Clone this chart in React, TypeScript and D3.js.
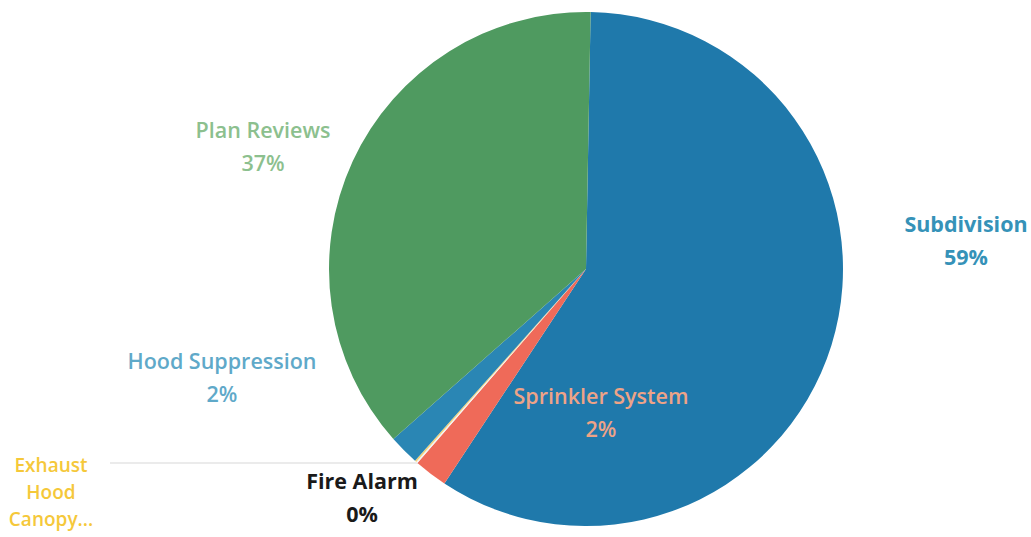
import React from 'react';
import * as d3 from 'd3';

const categories = ['Subdivision', 'Sprinkler System', 'Fire Alarm', 'Exhaust Hood Canopy...', 'Hood Suppression', 'Plan Reviews'];
const values = [59, 2.1, 0.1, 0.1, 1.9, 36.8];
const pctLabels = ['59%', '2%', '0%', '', '2%', '37%'];
const sliceColors = ['#1f79ab', '#ef6a59', '#f4f4f4', '#f2d27a', '#2a86b4', '#4f9a60'];
const labelColors = ['#3592b8', '#eea387', '#1a1a1a', '#f5c83a', '#5fa9c9', '#8cc08e'];

// label anchors (layout only), relative to the pie centre
const labelPos: [number, number][] = [
  [380, -37],
  [15, 135],
  [-224, 220],
  [-535, 203],
  [-364, 100],
  [-323, -131],
];

const W = 1031;
const H = 537;
const cx = 586;
const cy = 269;
const r = 257;

const App = () => {
  const pie = d3
    .pie<number>()
    .sort(null)
    .value((d) => d)
    .startAngle(0.018)
    .endAngle(0.018 + Math.PI * 2);
  const arcs = pie(values);
  const arc = d3.arc<d3.PieArcDatum<number>>().innerRadius(0).outerRadius(r);

  return (
    <svg
      width={W}
      height={H}
      style={{ position: 'absolute', left: 0, top: 0, background: '#fff' }}
      fontFamily="'Open Sans', 'Noto Sans', sans-serif"
      fontWeight={600}
    >
      {/* faint leader line */}
      <line x1={110} x2={cx - 166} y1={463} y2={463} stroke="#e4e4e4" strokeWidth={1.5} />
      <g transform={`translate(${cx},${cy})`}>
        {arcs.map((a, i) => (
          <path key={categories[i]} d={arc(a) || ''} fill={sliceColors[i]} />
        ))}
        {categories.map((c, i) => {
          const [lx, ly] = labelPos[i];
          const lines = i === 3 ? ['Exhaust', 'Hood', 'Canopy...'] : [c, pctLabels[i]];
          const step = i === 3 ? 27 : 33;
          const size = i === 3 ? 19 : 21.5;
          return (
            <text
              key={c}
              x={lx}
              y={ly}
              textAnchor="middle"
              fill={labelColors[i]}
              fontSize={size}
              fontWeight={i === 0 || i === 2 ? 700 : 600}
            >
              {lines.map((t, k) => (
                <tspan key={k} x={lx} dy={k === 0 ? 0 : step}>
                  {t}
                </tspan>
              ))}
            </text>
          );
        })}
      </g>
    </svg>
  );
};

export default App;
